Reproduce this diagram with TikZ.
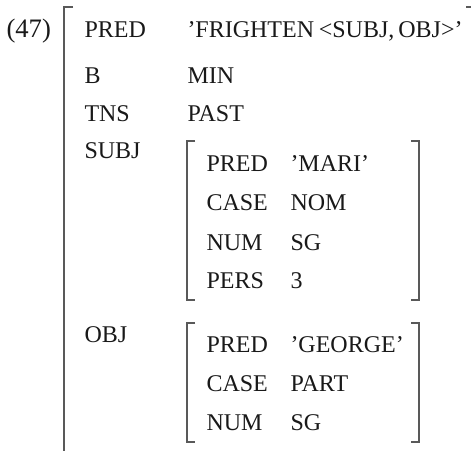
\documentclass[tikz,border=0pt]{standalone}
\usepackage{fontspec}
\setmainfont{Liberation Serif}
\tikzset{every picture/.style={line width=0.75pt}}
\tikzset{avm/.style={anchor=base west, inner sep=0.75pt, font=\fontsize{18}{21}\selectfont, text=black!90}}
\colorlet{brk}{black!65}

\begin{document}
\begin{tikzpicture}[x=0.75pt,y=0.75pt,yscale=-1,xscale=1]
\path [use as bounding box] (0,0) rectangle (471,450);

%Shape: Outer bracket left
\draw [brk, line width=1pt] (73,7) -- (64,7) -- (64,456) ;
%Shape: Outer bracket right
\draw [brk, line width=1pt] (466,7) -- (472,7) -- (472,456) ;
%Shape: SUBJ bracket left
\draw [brk, line width=1pt] (195,141) -- (187,141) -- (187,300) -- (195,300) ;
%Shape: SUBJ bracket right
\draw [brk, line width=1pt] (411,141) -- (419,141) -- (419,300) -- (411,300) ;
%Shape: OBJ bracket left
\draw [brk, line width=1pt] (195,323) -- (187,323) -- (187,442) -- (195,442) ;
%Shape: OBJ bracket right
\draw [brk, line width=1pt] (411,323) -- (419,323) -- (419,442) -- (411,442) ;

% Text Node
\draw (5,37) node [avm, font=\fontsize{20}{23}\selectfont] (num) {(47)};
% Text Node
\draw (83,37) node [avm] (predA) {PRED};
% Text Node
\draw (186,37) node [avm] (predV) {’FRIGHTEN\kern-1pt{} <SUBJ,\kern-1.5pt{} OBJ>’};
% Text Node
\draw (83,83) node [avm] (bA) {B};
% Text Node
\draw (186,83) node [avm] (bV) {MIN};
% Text Node
\draw (83,121) node [avm] (tnsA) {TNS};
% Text Node
\draw (186,121) node [avm] (tnsV) {PAST};
% Text Node
\draw (83,158) node [avm] (subjA) {SUBJ};
% Text Node
\draw (83,342) node [avm] (objA) {OBJ};

% Text Node
\draw (205,171) node [avm] (sPredA) {PRED};
% Text Node
\draw (289,171) node [avm] (sPredV) {’MARI’};
% Text Node
\draw (205,210) node [avm] (sCaseA) {CASE};
% Text Node
\draw (289,210) node [avm] (sCaseV) {NOM};
% Text Node
\draw (205,250) node [avm] (sNumA) {NUM};
% Text Node
\draw (289,250) node [avm] (sNumV) {SG};
% Text Node
\draw (205,288) node [avm] (sPersA) {PERS};
% Text Node
\draw (289,288) node [avm] (sPersV) {3};

% Text Node
\draw (205,352) node [avm] (oPredA) {PRED};
% Text Node
\draw (289,352) node [avm] (oPredV) {’GEORGE’};
% Text Node
\draw (205,391) node [avm] (oCaseA) {CASE};
% Text Node
\draw (289,391) node [avm] (oCaseV) {PART};
% Text Node
\draw (205,430) node [avm] (oNumA) {NUM};
% Text Node
\draw (289,430) node [avm] (oNumV) {SG};

\end{tikzpicture}
\end{document}
